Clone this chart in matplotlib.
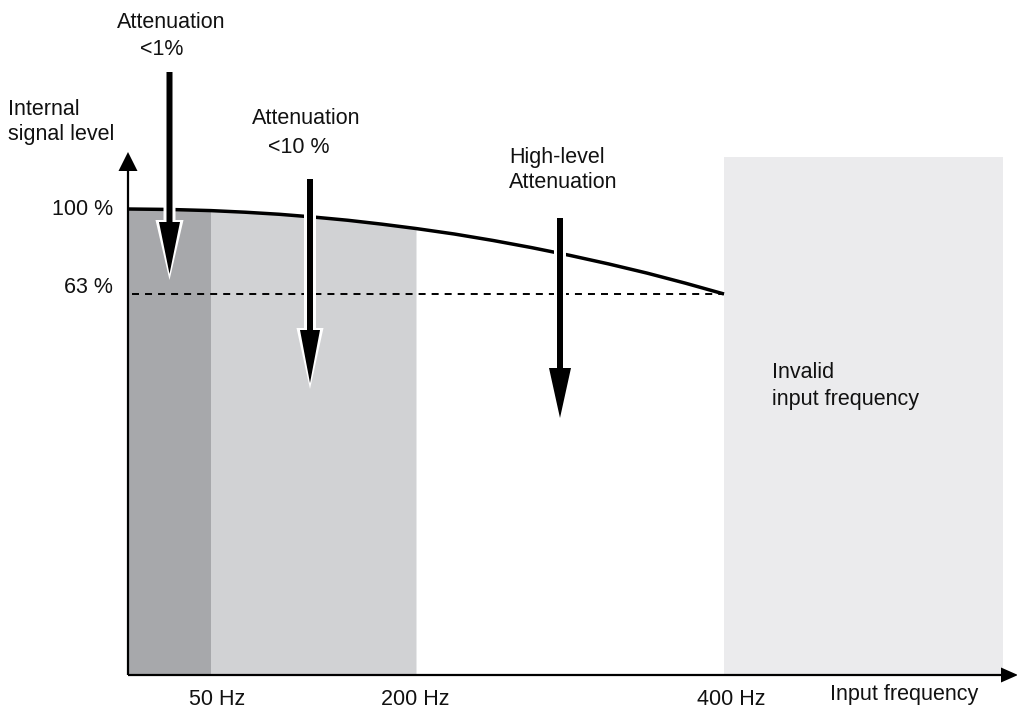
import numpy as np
import matplotlib
matplotlib.use("Agg")
import matplotlib.pyplot as plt
from matplotlib.patches import Polygon

# ---------------- data ----------------
freq_hz = [0, 25, 50, 75, 100, 125, 150, 175, 200, 225, 250, 275, 300, 325, 350, 375, 400]
level_pct = [100.0, 99.8, 99.3, 98.6, 97.7, 96.5, 95.1, 93.4, 91.5, 89.1, 86.3, 83.2,
             79.8, 76.1, 72.1, 67.7, 63.0]
tick_freqs = [50, 200, 400]
tick_labels = ["50 Hz", "200 Hz", "400 Hz"]
level_ticks = [100, 63]
level_labels = ["100 %", "63 %"]
dark_zone = (0, 50)
light_zone = (50, 200)
invalid_from = 400

# ---------------- layout ----------------
W, H = 1017, 708
plt.rcParams['font.family'] = ['Liberation Sans', 'DejaVu Sans']
FS = 15.5
TXT = '#111111'

fig = plt.figure(figsize=(W / 100, H / 100), dpi=100)
ax = fig.add_axes([0, 0, 1, 1])
ax.set_axis_off()

# schematic (non-linear) frequency axis: pixel anchors for the labelled frequencies
anchor_f = np.array([-100.0, 0, 50, 200, 400, 700])
anchor_px = np.array([128 - 166.0, 128, 211, 416, 724, 724 + 462])


def fwd(f):
    return np.interp(f, anchor_f, anchor_px)


def inv(p):
    return np.interp(p, anchor_px, anchor_f)


ax.set_xscale('function', functions=(fwd, inv))
ax.set_xlim(inv(0), inv(W))

px_per_pct = (294 - 209) / (100 - 63)


def lvl(py):
    return 100 - (py - 209) / px_per_pct


ax.set_ylim(lvl(H), lvl(0))
base = lvl(675)

f = np.array(freq_hz, dtype=float)
L = np.array(level_pct, dtype=float)

# zones
m1 = (f >= dark_zone[0]) & (f <= dark_zone[1])
ax.fill_between(f[m1], L[m1], base, color='#a7a8ab', lw=0, zorder=1)
m2 = (f >= light_zone[0]) & (f <= light_zone[1])
ax.fill_between(f[m2], L[m2], base, color='#d1d2d4', lw=0, zorder=1)
ax.fill_between([invalid_from, inv(1003)], lvl(157), base, color='#ebebed', lw=0, zorder=0)

# curve and 63 % line
ax.plot(f, L, color='black', lw=2.5, solid_capstyle='butt', solid_joinstyle='round', zorder=3)
ax.plot([f[0] + 2.5, invalid_from], [63, 63], color='black', lw=1.4,
        dashes=(3.6, 3.1), zorder=2)

# axes with arrow heads
ax.plot([0, 0], [base, lvl(171)], color='black', lw=1.6, zorder=5, solid_capstyle='butt')
ax.plot([0, inv(1002)], [base, base], color='black', lw=1.6, zorder=5, solid_capstyle='butt')
ax.add_patch(Polygon([(inv(118.5), lvl(171)), (inv(137.5), lvl(171)), (inv(128), lvl(152))],
                     closed=True, facecolor='black', edgecolor='none', zorder=5))
ax.add_patch(Polygon([(inv(1001), lvl(667.5)), (inv(1001), lvl(682.5)), (inv(1018), lvl(675))],
                     closed=True, facecolor='black', edgecolor='none', zorder=5))


def arrow_pts(cx, top, hb, tip, sw, hw):
    pts = [(cx - sw / 2, top), (cx + sw / 2, top), (cx + sw / 2, hb), (cx + hw / 2, hb),
           (cx, tip), (cx - hw / 2, hb), (cx - sw / 2, hb)]
    return [(inv(x), lvl(y)) for x, y in pts]


def down_arrow(cx, top, hb, tip, sw, hw):
    ax.add_patch(Polygon(arrow_pts(cx, top, hb - 2, tip + 6, sw + 6, hw + 7), closed=True,
                         facecolor='white', edgecolor='none', zorder=6))
    ax.add_patch(Polygon(arrow_pts(cx, top, hb, tip, sw, hw), closed=True,
                         facecolor='black', edgecolor='none', zorder=7))


down_arrow(169.5, 72, 222, 274, 6, 21)
down_arrow(310, 179, 330, 383, 6, 20)
down_arrow(560, 218, 368, 418, 6, 22)


def txt(px, py, s, ha='left'):
    ax.text(inv(px), lvl(py), s, ha=ha, va='baseline', fontsize=FS, color=TXT, zorder=8)


# annotations
txt(171, 28, "Attenuation", ha='center')
txt(140, 55, "<1%")
txt(8, 115, "Internal")
txt(8, 140, "signal level")
txt(252, 124, "Attenuation")
txt(268, 153, "<10 %")
txt(509, 163, "High-level")
txt(509, 188, "Attenuation")
txt(772, 378, "Invalid")
txt(772, 405, "input frequency")
txt(904, 700, "Input frequency", ha='center')

# level labels
for py, s in zip([215, 293], level_labels):
    txt(113, py, s, ha='right')

# frequency labels
for cx, s in zip([217, 415, 731], tick_labels):
    txt(cx, 705, s, ha='center')

fig.savefig('out.png', dpi=100)
